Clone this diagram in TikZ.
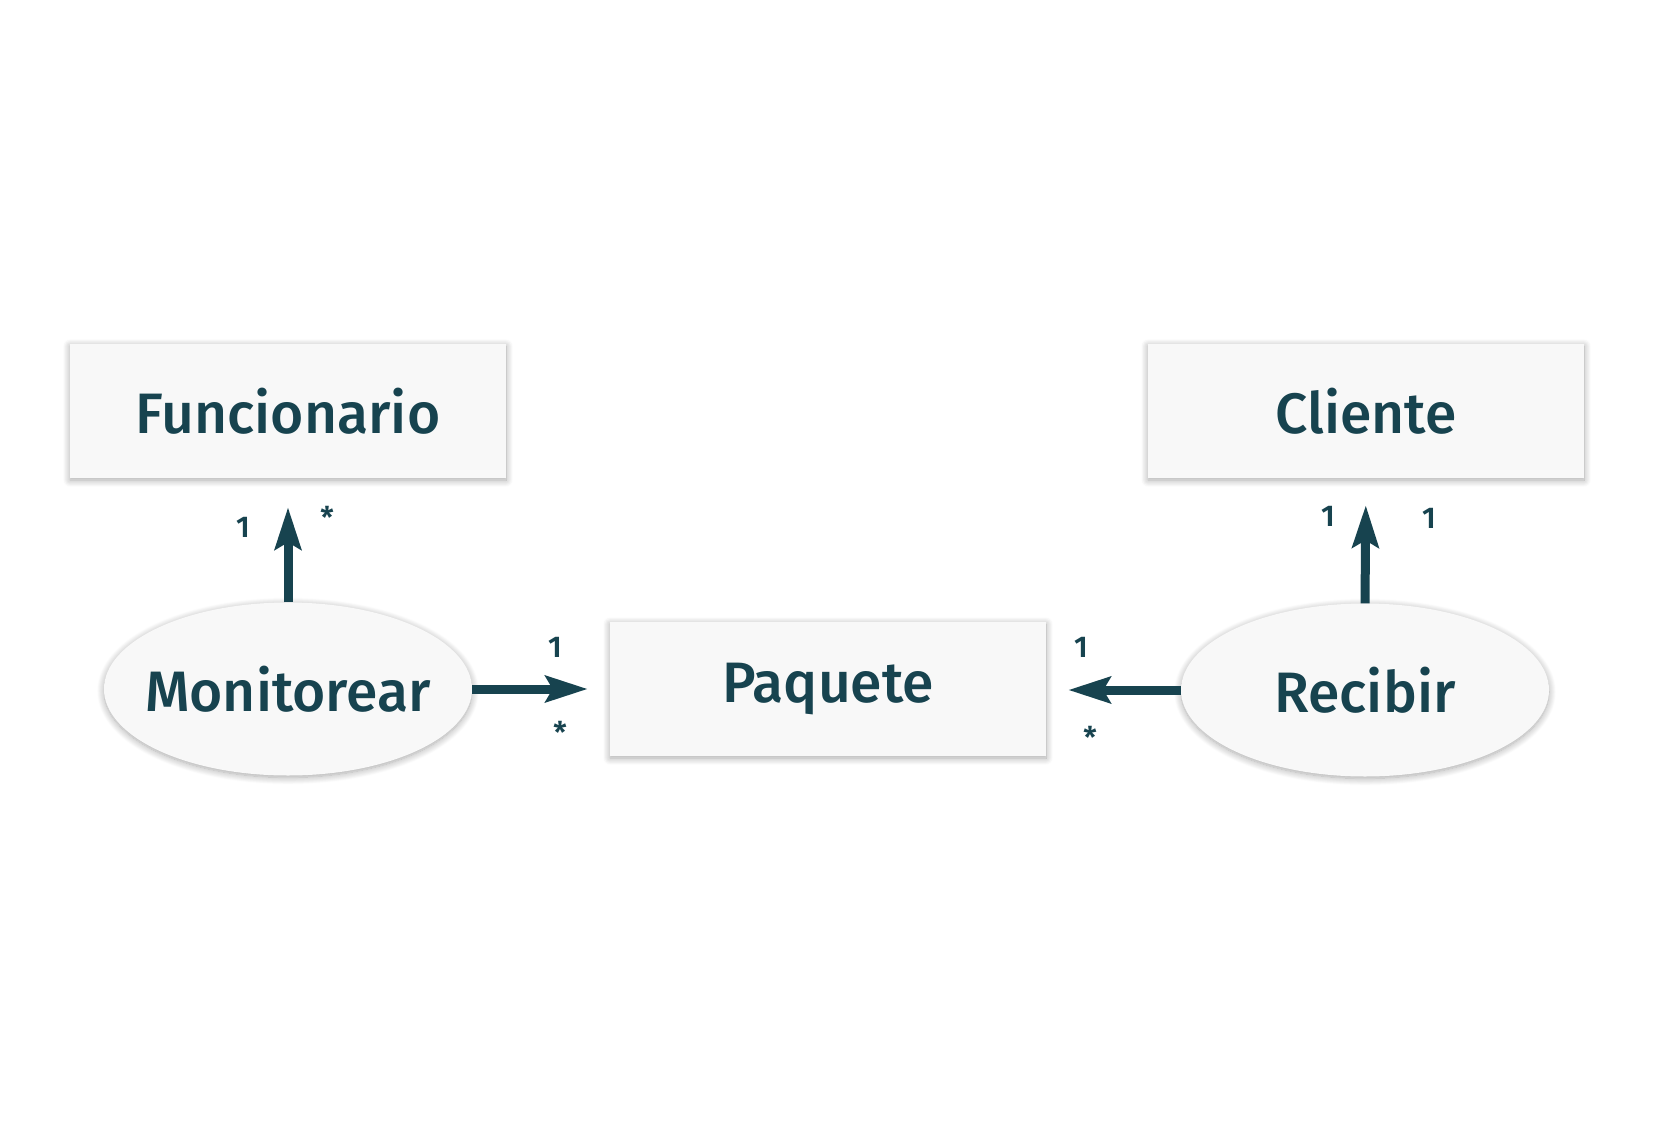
\documentclass[tikz,border=0pt]{standalone}
\usepackage{fontspec}
\setmainfont{Fira Sans}[UprightFont=* Medium, BoldFont=* SemiBold]
\usetikzlibrary{arrows.meta,shapes.geometric,shadows.blur}
\definecolor{ink}{HTML}{17434F}
\definecolor{boxfill}{HTML}{F8F8F8}
\tikzset{
  soft/.style={blur shadow={shadow xshift=0pt, shadow yshift=-2pt, shadow blur steps=10, shadow blur radius=7pt, shadow opacity=35}},
  classbox/.style={rectangle, fill=boxfill, soft, minimum width=436pt, minimum height=134pt, inner sep=0pt, text=ink, font=\fontsize{57}{60}\selectfont},
  usecase/.style={ellipse, fill=boxfill, soft, minimum width=368pt, minimum height=173pt, inner sep=0pt, text=ink, font=\fontsize{57}{60}\selectfont},
  arr/.style={draw=ink, line width=9pt, -{Stealth[length=42pt, width=26pt, inset=7pt]}},
  mult/.style={text=ink, font=\bfseries\fontsize{30}{32}\selectfont, inner sep=0pt}
}
\begin{document}
\begin{tikzpicture}[x=1pt,y=-1pt]
\useasboundingbox (0,0) rectangle (1654,1137);
\node[classbox] (fun) at (288,411) {Funcionario};
\node[classbox] (cli) at (1366,411) {Cliente};
\node[classbox] (paq) at (828,689) {Paquete};
\node[usecase] (mon) at (288,689) {\makebox[0pt]{Monitorear}};
\node[usecase] (rec) at (1365,690) {\makebox[0pt]{Recibir}};
\draw[arr, shorten >=29pt] (mon.north) -- (fun.south);
\draw[arr, shorten >=27pt] (rec.north) -- (cli.south);
\draw[arr, shorten >=22pt] (mon.east) -- (mon.east -| paq.west);
\draw[arr, shorten >=22pt] (rec.west) -- (rec.west -| paq.east);
\node[mult] (m1) at (243,527) {1};
\node[mult] (m2) at (327,517) {*};
\node[mult] (m3) at (555,647) {1};
\node[mult] (m4) at (560,732) {*};
\node[mult] (m5) at (1081,647) {1};
\node[mult] (m6) at (1090,737) {*};
\node[mult] (m7) at (1328,516) {1};
\node[mult] (m8) at (1429,518) {1};
\end{tikzpicture}
\end{document}
